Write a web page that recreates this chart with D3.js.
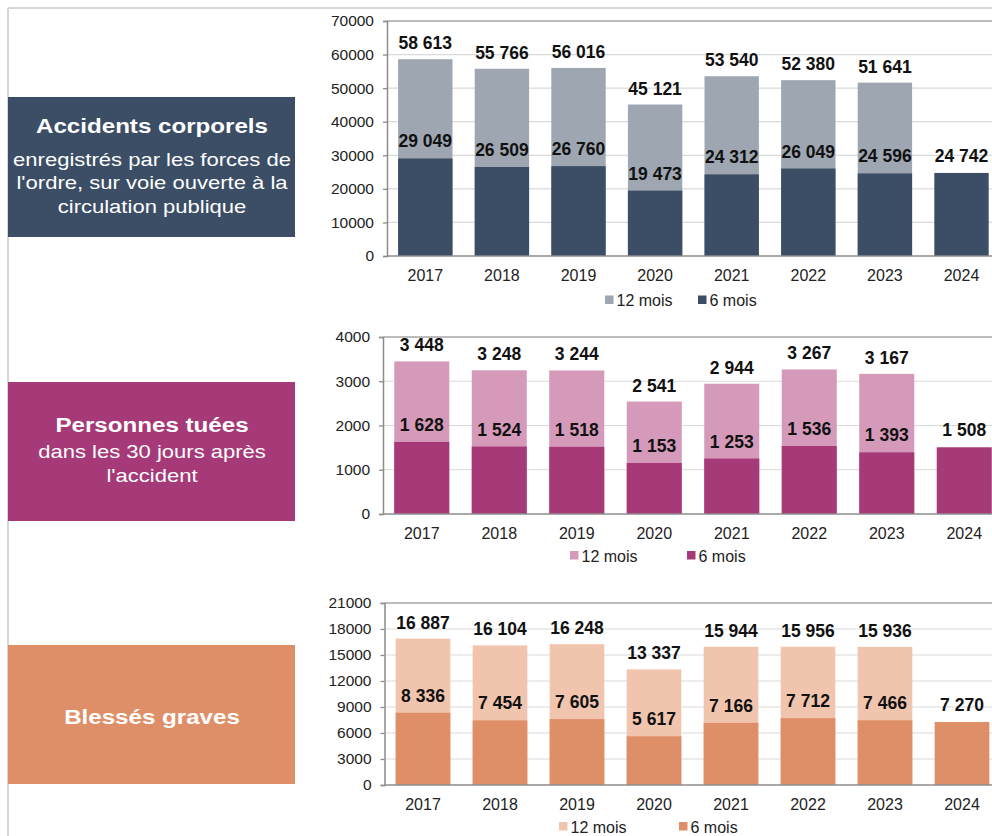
<!DOCTYPE html>
<html>
<head>
<meta charset="utf-8">
<script src="https://cdn.jsdelivr.net/npm/d3@7"></script>
<style>
  body { margin: 0; background: #fff; }
  svg { display: block; font-family: "Liberation Sans", Arial, sans-serif; }
</style>
</head>
<body>
<svg width="992" height="836"></svg>
<script>
var years = ["2017", "2018", "2019", "2020", "2021", "2022", "2023", "2024"];

var accidents12 = [58613, 55766, 56016, 45121, 53540, 52380, 51641, null];
var accidents6  = [29049, 26509, 26760, 19473, 24312, 26049, 24596, 24742];

var tues12 = [3448, 3248, 3244, 2541, 2944, 3267, 3167, null];
var tues6  = [1628, 1524, 1518, 1153, 1253, 1536, 1393, 1508];

var blesses12 = [16887, 16104, 16248, 13337, 15944, 15956, 15936, null];
var blesses6  = [8336, 7454, 7605, 5617, 7166, 7712, 7466, 7270];

var yTicksAccidents = [0, 10000, 20000, 30000, 40000, 50000, 60000, 70000];
var yTicksTues = [0, 1000, 2000, 3000, 4000];
var yTicksBlesses = [0, 3000, 6000, 9000, 12000, 15000, 18000, 21000];

var legendLabels = ["12 mois", "6 mois"];

var svg = d3.select("svg");
var fr = d3.formatLocale({decimal: ",", thousands: " ", grouping: [3], currency: ["", ""]});
var fmt = fr.format(",d");

// page frame
svg.append("line").attr("x1", 8).attr("x2", 992).attr("y1", 8).attr("y2", 8)
    .attr("stroke", "#d6d6d6").attr("stroke-width", 2);
svg.append("line").attr("x1", 8).attr("x2", 8).attr("y1", 8).attr("y2", 836)
    .attr("stroke", "#d6d6d6").attr("stroke-width", 2);

var charts = [
    {v12: accidents12, v6: accidents6, ticks: yTicksAccidents, x0: 387, step: 76.6, top: 21, bottom: 256,
     c12: "#9ea6b1", c6: "#3c4e65", legY: 300, leg12: 605, leg6: 698,
     box: {y: 97, h: 140, color: "#3c4e65", title: "Accidents corporels", titleY: 133,
           lines: ["enregistrés par les forces de", "l'ordre, sur voie ouverte à la", "circulation publique"], lineY: 165.5}},
    {v12: tues12, v6: tues6, ticks: yTicksTues, x0: 383, step: 77.5, top: 337, bottom: 514,
     c12: "#d59aba", c6: "#a63a78", legY: 555.5, leg12: 570, leg6: 687,
     box: {y: 382, h: 139, color: "#a63a78", title: "Personnes tuées", titleY: 432,
           lines: ["dans les 30 jours après", "l'accident"], lineY: 458}},
    {v12: blesses12, v6: blesses6, ticks: yTicksBlesses, x0: 384.5, step: 77, top: 603, bottom: 785,
     c12: "#f1c4ae", c6: "#df8f68", legY: 826.5, leg12: 559, leg6: 679,
     box: {y: 645, h: 139, color: "#df8f68", title: "Blessés graves", titleY: 724,
           lines: [], lineY: 0}}
];

charts.forEach(function(c) {
    var g = svg.append("g");
    var x = d3.scaleBand().domain(years)
        .range([c.x0, c.x0 + c.step * years.length])
        .paddingInner(0.29).paddingOuter(0.145);
    var y = d3.scaleLinear().domain([0, c.ticks[c.ticks.length - 1]]).range([c.bottom, c.top]);

    // gridlines
    g.selectAll(".grid").data(c.ticks.slice(1, -1)).enter().append("line")
        .attr("x1", c.x0).attr("x2", 992)
        .attr("y1", function(d) { return y(d); }).attr("y2", function(d) { return y(d); })
        .attr("stroke", "#d9d9d9").attr("stroke-width", 1.2);
    g.append("line").attr("x1", c.x0).attr("x2", 992).attr("y1", c.top).attr("y2", c.top)
        .attr("stroke", "#a6a6a6").attr("stroke-width", 1.3);

    // bars: 12 mois behind, 6 mois in front
    var idx = d3.range(years.length);
    g.selectAll(".b12").data(idx.filter(function(i) { return c.v12[i] != null; })).enter().append("rect")
        .attr("x", function(i) { return x(years[i]); })
        .attr("width", x.bandwidth())
        .attr("y", function(i) { return y(c.v12[i]); })
        .attr("height", function(i) { return c.bottom - y(c.v12[i]); })
        .attr("fill", c.c12);
    g.selectAll(".b6").data(idx).enter().append("rect")
        .attr("x", function(i) { return x(years[i]); })
        .attr("width", x.bandwidth())
        .attr("y", function(i) { return y(c.v6[i]); })
        .attr("height", function(i) { return c.bottom - y(c.v6[i]); })
        .attr("fill", c.c6);

    // value labels
    g.selectAll(".l12").data(idx.filter(function(i) { return c.v12[i] != null; })).enter().append("text")
        .attr("x", function(i) { return x(years[i]) + x.bandwidth() / 2; })
        .attr("y", function(i) { return y(c.v12[i]) - 10; })
        .attr("text-anchor", "middle").attr("font-size", 17.5).attr("font-weight", "bold").attr("fill", "#111")
        .text(function(i) { return fmt(c.v12[i]); });
    g.selectAll(".l6").data(idx).enter().append("text")
        .attr("x", function(i) { return x(years[i]) + x.bandwidth() / 2; })
        .attr("y", function(i) { return y(c.v6[i]) - 11; })
        .attr("text-anchor", "middle").attr("font-size", 17.5).attr("font-weight", "bold").attr("fill", "#111")
        .text(function(i) { return fmt(c.v6[i]); });

    // axes
    var ya = g.append("g").attr("transform", "translate(" + c.x0 + ",0)")
        .call(d3.axisLeft(y).tickValues(c.ticks).tickSize(4).tickPadding(9).tickFormat(d3.format("d")));
    ya.select(".domain").attr("stroke", "#8c8c8c").attr("stroke-width", 1.5);
    ya.selectAll(".tick line").attr("stroke", "#8c8c8c").attr("stroke-width", 1.3);
    ya.selectAll("text").attr("font-size", 15.5).attr("fill", "#222").attr("font-family", "Liberation Sans, Arial, sans-serif");

    var xa = g.append("g").attr("transform", "translate(0," + c.bottom + ")")
        .call(d3.axisBottom(x).tickSize(0).tickPadding(14));
    xa.select(".domain").attr("stroke", "#8c8c8c").attr("stroke-width", 1.5)
        .attr("d", "M" + c.x0 + ",0H992");
    xa.selectAll("text").attr("font-size", 16).attr("fill", "#222").attr("font-family", "Liberation Sans, Arial, sans-serif");

    // legend
    [[c.leg12, c.c12, legendLabels[0]], [c.leg6, c.c6, legendLabels[1]]].forEach(function(l) {
        g.append("rect").attr("x", l[0]).attr("y", c.legY - 4.5).attr("width", 8.5).attr("height", 8.5).attr("fill", l[1]);
        g.append("text").attr("x", l[0] + 11.5).attr("y", c.legY + 6)
            .attr("font-size", 16).attr("fill", "#222").text(l[2]);
    });

    // left label box (text is a little wider than tall in the original)
    var b = c.box;
    svg.append("rect").attr("x", 8).attr("y", b.y).attr("width", 287).attr("height", b.h).attr("fill", b.color);
    svg.append("text").attr("transform", "translate(152," + b.titleY + ") scale(1.15,1)")
        .attr("text-anchor", "middle")
        .attr("font-size", 21).attr("font-weight", "bold").attr("fill", "#fff").text(b.title);
    svg.selectAll(null).data(b.lines).enter().append("text")
        .attr("transform", function(d, i) { return "translate(152," + (b.lineY + i * 23.5) + ") scale(1.16,1)"; })
        .attr("text-anchor", "middle").attr("font-size", 19).attr("fill", "#fff")
        .text(function(d) { return d; });
});
</script>
</body>
</html>
